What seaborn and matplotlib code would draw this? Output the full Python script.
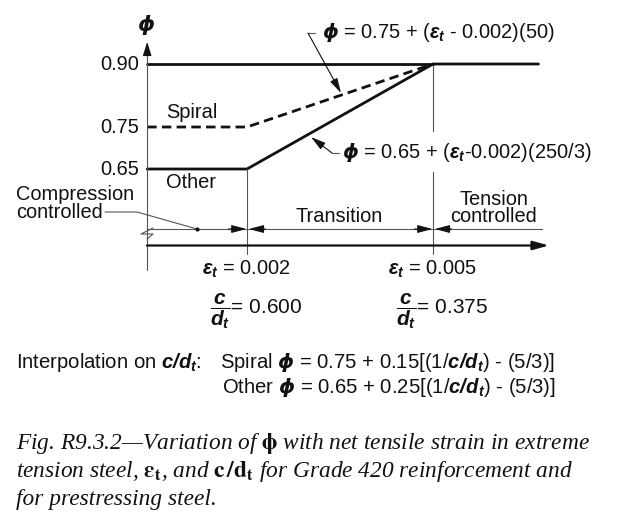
import matplotlib
matplotlib.use("Agg")
import matplotlib.pyplot as plt
import matplotlib.transforms as mtransforms
import seaborn as sns
import pandas as pd

# ---------------- data ----------------
eps_start = 0.00039           # strain where the broken axis begins
eps_end = 0.0067              # strain where the plateau line ends
eps_limits = [0.002, 0.005]   # compression-controlled / tension-controlled limits
other_eps = [eps_start, 0.002, 0.005, eps_end]
other_phi = [0.65, 0.65, 0.90, 0.90]
spiral_eps = [eps_start, 0.002, 0.005]
spiral_phi = [0.75, 0.75, 0.90]
top_eps = [eps_start, 0.005]
top_phi = [0.90, 0.90]
ytick_vals = [0.90, 0.75, 0.65]
ytick_labels = ["0.90", "0.75", "0.65"]
eps_labels = ["0.002", "0.005"]
cdt_labels = ["0.600", "0.375"]

df = pd.concat([
    pd.DataFrame({"eps": other_eps, "phi": other_phi, "series": "Other"}),
    pd.DataFrame({"eps": spiral_eps, "phi": spiral_phi, "series": "Spiral"}),
    pd.DataFrame({"eps": top_eps, "phi": top_phi, "series": "Top"}),
], ignore_index=True)

# ---------------- style ----------------
sns.set_theme(style="white")
plt.rcParams["font.family"] = ["Liberation Sans", "DejaVu Sans"]
plt.rcParams["mathtext.fontset"] = "custom"
plt.rcParams["mathtext.rm"] = "Liberation Sans"
plt.rcParams["mathtext.it"] = "Liberation Sans:italic"
plt.rcParams["mathtext.bf"] = "Liberation Sans:bold"
plt.rcParams["mathtext.bfit"] = "Liberation Sans:italic:bold"
plt.rcParams["mathtext.sf"] = "DejaVu Sans:italic:bold"   # used for the straight phi

W, H = 622, 526
fig = plt.figure(figsize=(W / 100, H / 100), dpi=100, facecolor="white")
ax = fig.add_axes([0, 0, 1, 1])
ax.set_xlim(-0.001984, 0.008048)
ax.set_ylim(-0.2, 1.0524)
ax.axis("off")

INK = "#111111"
THIN = "#555555"
FS = 14.4
FS2 = 14.6
PHI = r"$\mathsf{ϕ}$"

def fx(px):
    return px / W

def fy(py):
    return 1 - py / H

def P(px, py):
    return (fx(px), fy(py))

bt = mtransforms.blended_transform_factory(fig.transFigure, ax.transData)
bt2 = mtransforms.blended_transform_factory(ax.transData, fig.transFigure)
tf = fig.transFigure

# ---------------- curves ----------------
sns.lineplot(data=df, x="eps", y="phi", hue="series", style="series",
             palette={"Other": INK, "Spiral": INK, "Top": INK},
             dashes={"Other": "", "Spiral": (3.4, 1.9), "Top": ""},
             sort=False, estimator=None, legend=False, linewidth=2.0, ax=ax)

# ---------------- axes ----------------
ax.plot([eps_start, eps_start], [fy(270), fy(52)], transform=bt2, color=THIN, lw=0.8)
ax.annotate("", xy=(eps_start, fy(42)), xytext=(eps_start, fy(55)),
            xycoords=bt2, textcoords=bt2,
            arrowprops=dict(arrowstyle="-|>,head_length=0.7,head_width=0.22",
                            color=INK, lw=0.8, shrinkA=0, shrinkB=0))
ax.text(fx(146), fy(25), PHI, transform=tf, ha="center", va="center",
        fontsize=15.5, color=INK)

ax.annotate("", xy=P(549, 245.5), xytext=P(147, 245.5),
            xycoords="figure fraction", textcoords="figure fraction",
            arrowprops=dict(arrowstyle="-|>,head_length=0.8,head_width=0.22",
                            color=INK, lw=1.6, shrinkA=0, shrinkB=0))

for v, lab in zip(ytick_vals, ytick_labels):
    ax.text(fx(139), v, lab, transform=bt, ha="right", va="center",
            fontsize=FS, color=INK)

ax.text(fx(166), fy(112), "Spiral", transform=tf, ha="left", va="center",
        fontsize=FS, color=INK)
ax.text(fx(166), fy(182), "Other", transform=tf, ha="left", va="center",
        fontsize=FS, color=INK)

# vertical guide lines at the strain limits
ax.plot([eps_limits[0]] * 2, [fy(169), fy(254)], transform=bt2, color=THIN, lw=0.8)
ax.plot([eps_limits[1]] * 2, [fy(66), fy(131)], transform=bt2, color=THIN, lw=0.8)
ax.plot([eps_limits[1]] * 2, [fy(172), fy(254)], transform=bt2, color=THIN, lw=0.8)

# dimension line with arrows
ydim = fy(229)
ax.plot([eps_start, eps_end + 0.00005], [ydim, ydim], transform=bt2, color=THIN, lw=0.8)
arrow_kw = dict(arrowstyle="-|>,head_length=0.75,head_width=0.2",
                color=INK, lw=0.8, shrinkA=0, shrinkB=0)
for tip, tail in [(eps_limits[0] - 0.00001, eps_limits[0] - 0.0003),
                  (eps_limits[0] + 0.00003, eps_limits[0] + 0.0003),
                  (eps_limits[1] - 0.00001, eps_limits[1] - 0.0003),
                  (eps_limits[1] + 0.00003, eps_limits[1] + 0.0003)]:
    ax.annotate("", xy=(tip, ydim), xytext=(tail, ydim), xycoords=bt2,
                textcoords=bt2, arrowprops=arrow_kw)

# axis break zigzag
zz = [P(153, 228), P(141, 234), P(153, 234), P(147, 239)]
ax.plot([p[0] for p in zz], [p[1] for p in zz], transform=tf, color=THIN, lw=0.8)

# region labels
ax.text(fx(16), fy(203.5), "Compression\ncontrolled", transform=tf, ha="left",
        va="center", fontsize=FS, color=INK, linespacing=0.88)
ax.plot([fx(105), fx(137), fx(197)], [fy(212), fy(212), fy(229)],
        transform=tf, color=THIN, lw=0.8)
ax.plot([fx(197)], [fy(229)], "o", ms=2, color=INK, transform=tf)
ax.text(fx(339), fy(216), "Transition", transform=tf, ha="center", va="center",
        fontsize=FS, color=INK)
ax.text(fx(494), fy(208), "Tension\ncontrolled", transform=tf, ha="center",
        va="center", multialignment="center", fontsize=FS, color=INK,
        linespacing=0.88)

# equations with leaders
ax.text(fx(322), fy(33), PHI + r" = 0.75 + ($\mathbfit{ε_t}$ - 0.002)(50)",
        transform=tf, ha="left", va="center", fontsize=FS, color=INK)
ax.plot([fx(315), fx(308)], [fy(33), fy(33)], transform=tf, color=THIN, lw=0.8)
ax.annotate("", xy=P(341, 93), xytext=P(308, 33), xycoords="figure fraction",
            textcoords="figure fraction", arrowprops=arrow_kw)

ax.text(fx(342), fy(153), PHI + r" = 0.65 + ($\mathbfit{ε_t}$-0.002)(250/3)",
        transform=tf, ha="left", va="center", fontsize=FS, color=INK)
ax.plot([fx(339), fx(332)], [fy(153), fy(153)], transform=tf, color=THIN, lw=0.8)
ax.annotate("", xy=P(311, 137), xytext=P(332, 153), xycoords="figure fraction",
            textcoords="figure fraction", arrowprops=arrow_kw)

# strain / c/dt labels under the axis
for e, el, cl in zip(eps_limits, eps_labels, cdt_labels):
    ax.text(e - 0.00073, fy(269), r"$\mathbfit{ε_t}$ = " + el, transform=bt2,
            ha="left", va="center", fontsize=FS, color=INK)
    ax.text(e - 0.00060, fy(311),
            r"$\dfrac{\mathbfit{c}}{\mathbfit{d_t}}$= " + cl, transform=bt2,
            ha="left", va="center", fontsize=FS + 0.6, color=INK)

# interpolation text
ax.text(fx(16), fy(363), r"Interpolation on $\mathbfit{c/d_t}$:",
        transform=tf, ha="left", va="center", fontsize=FS2, color=INK)
ax.text(fx(220), fy(363),
        "Spiral " + PHI + r" = 0.75 + 0.15[(1/$\mathbfit{c/d_t}$) - (5/3)]",
        transform=tf, ha="left", va="center", fontsize=FS2, color=INK)
ax.text(fx(222), fy(388),
        "Other " + PHI + r" = 0.65 + 0.25[(1/$\mathbfit{c/d_t}$) - (5/3)]",
        transform=tf, ha="left", va="center", fontsize=FS2, color=INK)

# caption
cap_kw = dict(transform=tf, ha="left", va="center", fontsize=16.8,
              color=INK, family=["Liberation Serif", "DejaVu Serif"],
              style="italic", math_fontfamily="stix")
ax.text(fx(16), fy(443),
        r"Fig. R9.3.2—Variation of $\mathbf{\phi}$ with net tensile strain in extreme", **cap_kw)
ax.text(fx(16), fy(472),
        r"tension steel, $\mathbf{\varepsilon_t}$, and $\mathbf{c\,/d_t}$ for Grade 420 reinforcement and",
        **cap_kw)
ax.text(fx(16), fy(500), r"for prestressing steel.", **cap_kw)

fig.savefig("out.png", dpi=100, facecolor="white")
